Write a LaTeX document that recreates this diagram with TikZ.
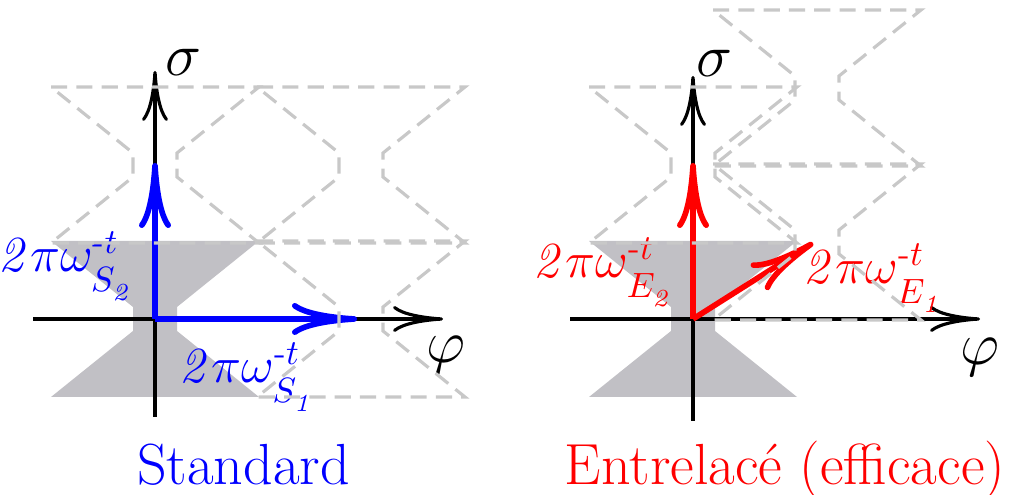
\documentclass[tikz,border=0pt]{standalone}
\usepackage{amsmath}
\usetikzlibrary{arrows.meta}
\definecolor{standard}{RGB}{0,0,255}
\definecolor{interlaced}{RGB}{255,0,0}
\definecolor{cellfill}{RGB}{193,192,197}
\definecolor{cellline}{RGB}{200,200,200}
\tikzset{axis/.style={-{To[length=5mm,width=2.6mm]},line width=.9pt},
 basis/.style={-{To[length=6.5mm,width=3.2mm]},line width=1.6pt},
 copyline/.style={cellline,line width=.9pt,dash pattern=on 4.6pt off 2.6pt},
 veclabel/.style={font=\fontsize{14.2}{17}\selectfont},
 every node/.style={font=\fontsize{16.5}{20}\selectfont,inner sep=0pt},
 cell/.pic={\path[pic actions] (-1.04,.78)--(1.04,.78)--(.22,.12)--(.22,-.12)
   --(1.04,-.78)--(-1.04,-.78)--(-.22,-.12)--(-.22,.12)--cycle;}}
% 2 pi omega_{#1_#2}^{-t}
\newcommand\vecname[2]{$\mathit{2}\pi\omega^{\text{-}t}_{\rule{0pt}{8.6pt}#1_{\rule{0pt}{6pt}\mathit{#2}}}$}

\begin{document}
\begin{tikzpicture}
\useasboundingbox (0,0) rectangle (10.14,4.95);
% standard lattice
\begin{scope}[shift={(1.55,1.76)}]
\pic[fill=cellfill] {cell};
\coordinate (O1) at (0,0);
\coordinate (x1a) at (-1.22,0); \coordinate (x1b) at (2.88,0);
\coordinate (y1a) at (0,-.98); \coordinate (y1b) at (0,2.48);
\draw[axis] (x1a)--(x1b);
\draw[axis] (y1a)--(y1b);
\node (phi1) at (2.91,-.36) {$\varphi$};
\node (sig1) at (.28,2.57) {$\sigma$};
\coordinate (S1) at (2.02,0);
\coordinate (S2) at (0,1.56);
\draw[basis,standard] (O1)--(S1);
\draw[basis,standard] (O1)--(S2);
\node[veclabel,standard,anchor=base west] (lS1) at (.24,-.64) {\vecname{S}{1}};
\node[veclabel,standard,anchor=base east] (lS2) at (-.2,.47) {\vecname{S}{2}};
\foreach \p in {(0,1.54),(2.06,1.54),(2.06,0)} \pic[draw,copyline] at \p {cell};
\node[standard,anchor=base] (std) at (.885,-1.66) {Standard};
\end{scope}
% interlaced lattice
\begin{scope}[shift={(6.93,1.76)}]
\pic[fill=cellfill] {cell};
\coordinate (O2) at (0,0);
\coordinate (x2a) at (-1.23,0); \coordinate (x2b) at (2.87,0);
\coordinate (y2a) at (0,-1.02); \coordinate (y2b) at (0,2.43);
\draw[axis] (x2a)--(x2b);
\draw[axis] (y2a)--(y2b);
\node (phi2) at (2.87,-.38) {$\varphi$};
\node (sig2) at (.21,2.56) {$\sigma$};
\coordinate (E1) at (1.2,.76);
\coordinate (E2) at (0,1.56);
\draw[basis,interlaced] (O2)--(E1);
\draw[basis,interlaced] (O2)--(E2);
\node[veclabel,interlaced,anchor=base west] (lE1) at (1.1,.35) {\vecname{E}{1}};
\node[veclabel,interlaced,anchor=base east] (lE2) at (-.18,.41) {\vecname{E}{2}};
\foreach \p in {(0,1.54),(1.24,.77),(1.24,2.31)} \pic[draw,copyline] at \p {cell};
\node[interlaced,anchor=base] (ent) at (.92,-1.66) {Entrelacé (efficace)};
\end{scope}
\end{tikzpicture}
\end{document}
